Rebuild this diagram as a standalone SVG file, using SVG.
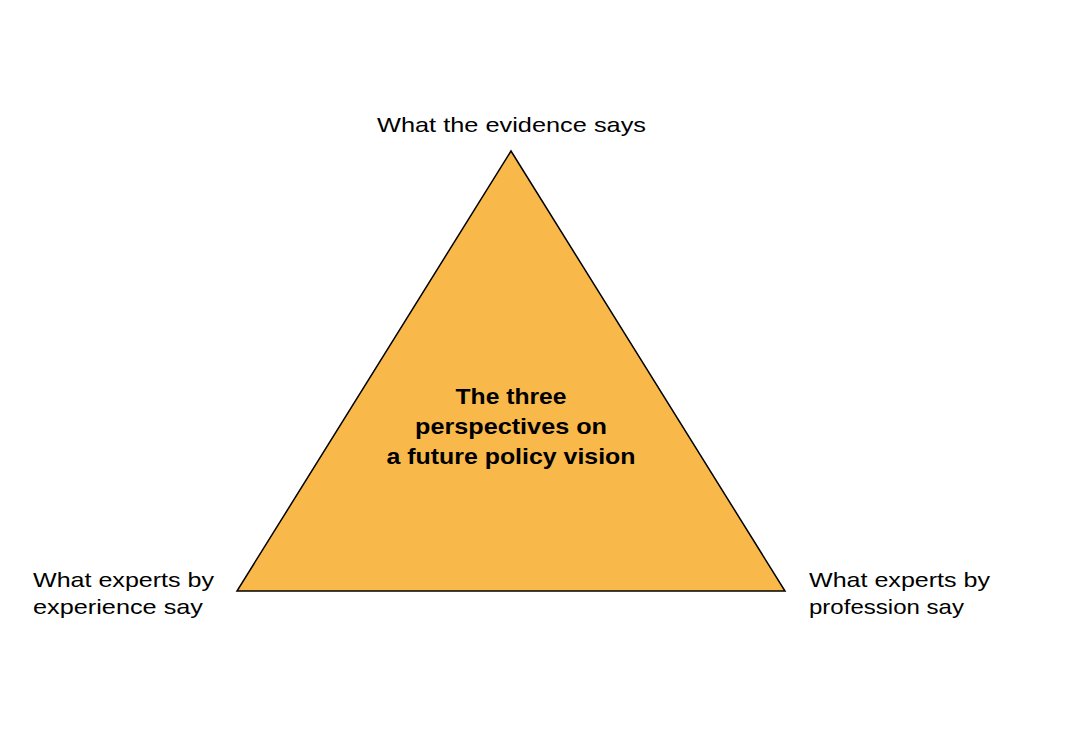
<svg xmlns="http://www.w3.org/2000/svg" width="1065" height="742" viewBox="0 0 1065 742">
<style>
.lbl{font-family:"Liberation Sans","DejaVu Sans",sans-serif;font-size:21px;fill:#000}
.ctr{font-family:"Liberation Sans","DejaVu Sans",sans-serif;font-size:22px;font-weight:bold;fill:#000;text-anchor:middle}
</style>
<rect width="1065" height="742" fill="#fff"/>
<g id="triangle">
<polygon points="511,151 237,591 785,591" fill="#F9B94A" stroke="#000" stroke-width="1.5" stroke-linejoin="miter"/>
<text class="ctr" x="511" y="404" textLength="111" lengthAdjust="spacingAndGlyphs">The three</text>
<text class="ctr" x="511" y="434" textLength="192" lengthAdjust="spacingAndGlyphs">perspectives on</text>
<text class="ctr" x="511" y="464" textLength="249" lengthAdjust="spacingAndGlyphs">a future policy vision</text>
</g>
<g id="label-evidence">
<text class="lbl" x="377" y="132" textLength="269" lengthAdjust="spacingAndGlyphs">What the evidence says</text>
</g>
<g id="label-experience">
<text class="lbl" x="33" y="587" textLength="181" lengthAdjust="spacingAndGlyphs">What experts by</text>
<text class="lbl" x="33" y="614" textLength="170" lengthAdjust="spacingAndGlyphs">experience say</text>
</g>
<g id="label-profession">
<text class="lbl" x="809" y="587" textLength="181" lengthAdjust="spacingAndGlyphs">What experts by</text>
<text class="lbl" x="809" y="614" textLength="155" lengthAdjust="spacingAndGlyphs">profession say</text>
</g>
<g id="connectors"></g>
</svg>
